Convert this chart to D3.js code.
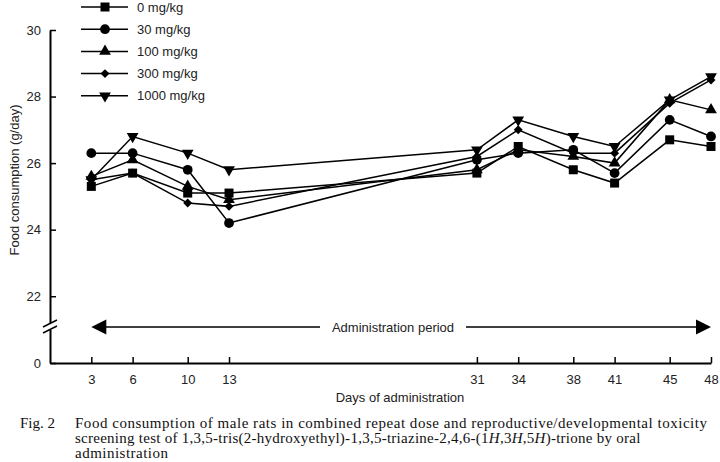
<!DOCTYPE html>
<html>
<head>
<meta charset="utf-8">
<script src="https://cdn.jsdelivr.net/npm/d3@7"></script>
<style>
  body { margin: 0; background: #fff; }
  svg { display: block; }
</style>
</head>
<body>
<div id="chart"></div>
<script>
var days = [3, 6, 10, 13, 31, 34, 38, 41, 45, 48]
var groups = ["0 mg/kg", "30 mg/kg", "100 mg/kg", "300 mg/kg", "1000 mg/kg"]
var dose0 = [25.3, 25.7, 25.1, 25.1, 25.7, 26.5, 25.8, 25.4, 26.7, 26.5]
var dose30 = [26.3, 26.3, 25.8, 24.2, 26.1, 26.3, 26.4, 25.7, 27.3, 26.8]
var dose100 = [25.6, 26.1, 25.3, 24.9, 25.8, 26.4, 26.2, 26.0, 27.9, 27.6]
var dose300 = [25.5, 25.7, 24.8, 24.7, 26.2, 27.0, 26.3, 26.3, 27.8, 28.5]
var dose1000 = [25.5, 26.8, 26.3, 25.8, 26.4, 27.3, 26.8, 26.5, 27.9, 28.6]
var yTicks = [0, 22, 24, 26, 28, 30]

var series = [dose0, dose30, dose100, dose300, dose1000]

var svg = d3.select("#chart")
    .append("svg")
        .attr("width", 720)
        .attr("height", 462)

var x = d3.scaleLinear()
    .domain([0, 48])
    .range([50, 711])

// broken axis: 0 at the bottom, 21..30 above the break
var y = d3.scaleLinear()
    .domain([0, 21, 30])
    .range([363, 329.5, 30])

var sans = "'Liberation Sans', Arial, sans-serif"

// x axis
svg.append("g")
    .attr("transform", "translate(0,363)")
    .call(d3.axisBottom(x).tickValues(days).tickSize(-6).tickSizeOuter(0).tickPadding(12))
    .call(g => g.select(".domain").attr("stroke-width", 2))
    .call(g => g.selectAll(".tick line").attr("stroke-width", 1.5))
    .call(g => g.selectAll("text").style("font-family", sans).style("font-size", "13px").attr("fill", "#222"))

// y axis
var yAxis = svg.append("g")
    .attr("transform", "translate(50,0)")
    .call(d3.axisLeft(y).tickValues(yTicks).tickSize(-6).tickSizeOuter(0).tickPadding(9))
yAxis.select(".domain").attr("stroke-width", 2)
yAxis.selectAll(".tick line").attr("stroke-width", 1.5)
yAxis.selectAll("text").style("font-family", sans).style("font-size", "13px").attr("fill", "#222")

// break marks
svg.append("rect")
    .attr("x", 44).attr("y", 323).attr("width", 12).attr("height", 7)
    .attr("fill", "#fff")
svg.selectAll(".brk")
    .data([0, 6])
    .join("line")
        .attr("x1", 43).attr("x2", 57)
        .attr("y1", d => 327 + d).attr("y2", d => 320 + d)
        .attr("stroke", "#000")
        .attr("stroke-width", 1.5)

// administration period arrow
var arrowY = 327
svg.append("line")
    .attr("x1", x(3) + 12).attr("x2", 320)
    .attr("y1", arrowY).attr("y2", arrowY)
    .attr("stroke", "#000").attr("stroke-width", 1.5)
svg.append("line")
    .attr("x1", 466).attr("x2", x(48) - 12)
    .attr("y1", arrowY).attr("y2", arrowY)
    .attr("stroke", "#000").attr("stroke-width", 1.5)
svg.append("path")
    .attr("d", "M" + x(3) + "," + arrowY + "l15,-7.5v15z")
    .attr("fill", "#000")
svg.append("path")
    .attr("d", "M" + x(48) + "," + arrowY + "l-15,-7.5v15z")
    .attr("fill", "#000")
svg.append("text")
    .attr("x", 393).attr("y", arrowY)
    .attr("dy", "0.35em")
    .attr("text-anchor", "middle")
    .style("font-family", sans).style("font-size", "13px")
    .attr("fill", "#222")
    .text("Administration period")

// axis titles
svg.append("text")
    .attr("x", 400).attr("y", 402)
    .attr("text-anchor", "middle")
    .style("font-family", sans).style("font-size", "13px")
    .attr("fill", "#222")
    .text("Days of administration")
svg.append("text")
    .attr("transform", "translate(14,180) rotate(-90)")
    .attr("text-anchor", "middle")
    .attr("dy", "0.35em")
    .style("font-family", sans).style("font-size", "13px")
    .attr("fill", "#222")
    .text("Food consumption (g/day)")

// markers
var symbols = [
    d3.symbol().type(d3.symbolSquare).size(81),
    d3.symbol().type(d3.symbolCircle).size(75),
    d3.symbol().type(d3.symbolTriangle).size(60),
    d3.symbol().type(d3.symbolSquare).size(40),
    d3.symbol().type(d3.symbolTriangle).size(60)
]
var rotation = [0, 0, 0, 45, 180]

var line = d3.line()
    .x(function(d, i) { return x(days[i]) })
    .y(function(d) { return y(d) })

svg.append("g")
    .selectAll("path")
    .data(series)
    .join("path")
        .attr("d", line)
        .attr("fill", "none")
        .attr("stroke", "#000")
        .attr("stroke-width", 1.5)

series.forEach(function(s, k) {
    svg.append("g")
        .selectAll("path")
        .data(s)
        .join("path")
            .attr("d", symbols[k])
            .attr("transform", function(d, i) {
                return "translate(" + x(days[i]) + "," + y(d) + ") rotate(" + rotation[k] + ")"
            })
            .attr("fill", "#000")
})

// legend
var legend = svg.append("g")
legend.selectAll("line")
    .data(groups)
    .join("line")
        .attr("x1", 81).attr("x2", 128)
        .attr("y1", (d, i) => 7 + i * 22.2)
        .attr("y2", (d, i) => 7 + i * 22.2)
        .attr("stroke", "#000").attr("stroke-width", 1.5)
legend.selectAll("path")
    .data(groups)
    .join("path")
        .attr("d", (d, i) => symbols[i]())
        .attr("transform", (d, i) => "translate(105," + (7 + i * 22.2) + ") rotate(" + rotation[i] + ")")
        .attr("fill", "#000")
legend.selectAll("text")
    .data(groups)
    .join("text")
        .attr("x", 137)
        .attr("y", (d, i) => 7 + i * 22.2)
        .attr("dy", "0.35em")
        .style("font-family", sans).style("font-size", "13px")
        .attr("fill", "#222")
        .text(d => d)

// caption
var serif = "'Liberation Serif', 'DejaVu Serif', serif"
var cap = svg.append("g")
    .style("font-family", serif).style("font-size", "15px")
    .attr("fill", "#111")
cap.append("text").attr("x", 20).attr("y", 428)
    .text("Fig. 2")
cap.append("text").attr("x", 75).attr("y", 428)
    .attr("textLength", 632).attr("lengthAdjust", "spacing")
    .text("Food consumption of male rats in combined repeat dose and reproductive/developmental toxicity")
var l2 = cap.append("text").attr("x", 75).attr("y", 443)
    .style("letter-spacing", "0.26px")
l2.append("tspan").text("screening test of 1,3,5-tris(2-hydroxyethyl)-1,3,5-triazine-2,4,6-(1")
l2.append("tspan").style("font-style", "italic").text("H")
l2.append("tspan").text(",3")
l2.append("tspan").style("font-style", "italic").text("H")
l2.append("tspan").text(",5")
l2.append("tspan").style("font-style", "italic").text("H")
l2.append("tspan").text(")-trione by oral")
cap.append("text").attr("x", 75).attr("y", 458)
    .attr("textLength", 93).attr("lengthAdjust", "spacing")
    .text("administration")
</script>
</body>
</html>
